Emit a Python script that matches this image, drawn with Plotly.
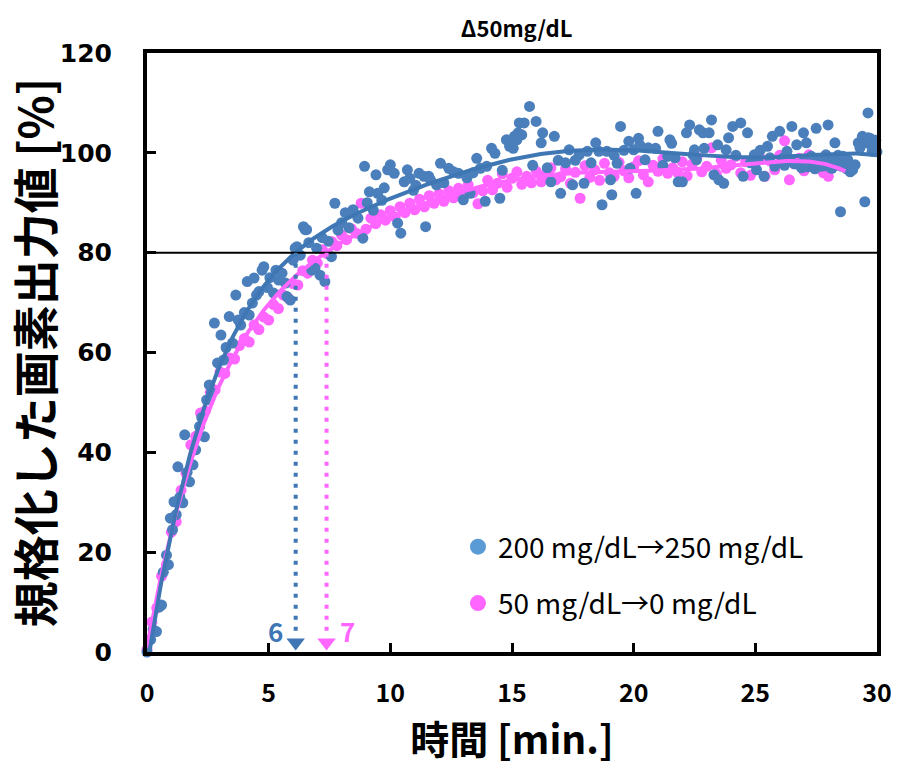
import numpy as np
import plotly.graph_objects as go

# 200 mg/dL -> 250 mg/dL : normalised pixel output over time
blue_t = [0.0, 0.15, 0.25, 0.39, 0.5, 0.6, 0.67, 0.8, 0.88, 0.96, 1.05, 1.11, 1.2, 1.27, 1.35, 1.47,
          1.55, 1.65, 1.75, 1.89, 2.0, 2.16, 2.25, 2.36, 2.45, 2.56, 2.65, 2.77, 2.9, 3.04, 3.15,
          3.25, 3.38, 3.51, 3.65, 3.75, 3.85, 4.0, 4.12, 4.2, 4.33, 4.4, 4.5, 4.6, 4.73, 4.8, 4.95,
          5.05, 5.2, 5.3, 5.41, 5.55, 5.69, 5.75, 5.89, 6.0, 6.09, 6.16, 6.3, 6.43, 6.5, 6.56, 6.65,
          6.77, 6.9, 6.97, 7.11, 7.2, 7.31, 7.45, 7.58, 7.72, 7.85, 8.0, 8.15, 8.3, 8.47, 8.67, 8.87,
          8.94, 9.05, 9.14, 9.3, 9.41, 9.48, 9.65, 9.75, 9.89, 10.0, 10.16, 10.3, 10.43, 10.57, 10.7,
          10.8, 10.95, 11.05, 11.18, 11.38, 11.45, 11.58, 11.65, 11.9, 12.06, 12.2, 12.4, 12.6, 12.8,
          13.0, 13.15, 13.28, 13.4, 13.55, 13.7, 13.9, 13.96, 14.16, 14.3, 14.5, 14.6, 14.77, 14.9,
          15.05, 15.1, 15.2, 15.25, 15.3, 15.4, 15.5, 15.72, 15.85, 15.99, 16.2, 16.26, 16.45, 16.6,
          16.74, 16.9, 17.0, 17.2, 17.35, 17.49, 17.6, 17.76, 17.96, 18.1, 18.25, 18.44, 18.57, 18.7,
          18.9, 19.05, 19.1, 19.2, 19.32, 19.46, 19.6, 19.8, 19.85, 20.0, 20.1, 20.2, 20.25, 20.47,
          20.6, 20.9, 21.0, 21.2, 21.4, 21.49, 21.56, 21.7, 21.83, 22.0, 22.17, 22.3, 22.44, 22.5,
          22.58, 22.7, 22.85, 22.9, 23.1, 23.2, 23.3, 23.45, 23.5, 23.7, 23.8, 23.9, 24.07, 24.2,
          24.4, 24.5, 24.68, 24.8, 24.96, 25.05, 25.1, 25.2, 25.36, 25.5, 25.6, 25.7, 25.8, 26.0,
          26.1, 26.15, 26.2, 26.3, 26.4, 26.5, 26.6, 26.7, 26.8, 26.9, 26.98, 27.0, 27.1, 27.15,
          27.2, 27.3, 27.4, 27.45, 27.5, 27.6, 27.7, 27.8, 27.85, 27.9, 27.99, 28.0, 28.1, 28.15,
          28.2, 28.27, 28.35, 28.4, 28.5, 28.55, 28.6, 28.7, 28.75, 28.8, 28.9, 29.0, 29.1, 29.23,
          29.3, 29.4, 29.5, 29.55, 29.63, 29.65, 29.7, 29.75, 29.8, 29.9, 29.95, 30.0]
blue_y = [0.0, 2.5, 4.5, 4.1, 9.0, 9.4, 16.0, 19.4, 17.5, 26.8, 24.5, 30.1, 27.5, 37.1, 31.0, 29.9,
          43.5, 36.0, 34.1, 37.5, 40.5, 45.2, 47.0, 43.1, 50.5, 53.5, 52.0, 65.9, 57.9, 63.5, 58.5,
          61.0, 67.2, 61.9, 71.5, 66.5, 65.5, 68.0, 74.2, 67.5, 69.9, 74.9, 71.5, 72.2, 76.5, 77.2, 73.0,
          75.0, 71.9, 76.5, 74.5, 75.9, 73.9, 71.2, 70.5, 78.5, 80.9, 81.2, 79.5, 85.2, 84.6, 84.6, 82.0,
          76.5, 76.9, 80.9, 75.5, 83.0, 74.2, 82.3, 79.2, 89.9, 84.5, 86.0, 88.0, 85.0, 88.6, 86.9, 82.9,
          97.3, 90.0, 92.2, 88.5, 95.6, 91.9, 90.5, 93.0, 96.6, 97.6, 95.9, 85.9, 83.9, 94.2, 96.6,
          94.9, 92.5, 93.5, 95.9, 95.3, 85.2, 95.3, 94.6, 93.6, 97.9, 94.0, 96.9, 96.2, 95.9,
          90.6, 95.0, 91.9, 96.0, 98.9, 96.9, 90.3, 97.3, 100.9, 99.9, 90.9, 96.5, 102.6, 101.3,
          100.9, 103.3, 102.6, 104.0, 106.0, 103.6, 106.0, 109.3, 97.5, 106.3, 102.0, 104.0, 97.0, 94.2,
          103.3, 98.5, 91.9, 98.0, 100.6, 93.6, 98.5, 99.6, 93.9, 100.3, 98.0, 102.0, 100.3, 89.6,
          100.3, 94.6, 91.6, 99.5, 97.9, 105.3, 100.5, 102.3, 96.9, 100.6, 91.9, 102.9, 101.6, 98.6,
          101.0, 100.9, 104.3, 97.5, 99.3, 102.6, 101.9, 99.0, 94.2, 94.2, 104.0, 105.6, 99.6, 100.6,
          98.6, 104.6, 104.0, 100.9, 104.0, 106.6, 95.6, 101.6, 94.6, 93.9, 100.6, 103.0, 105.3, 99.5,
          106.0, 95.3, 104.0, 98.0, 99.6, 96.6, 98.5, 100.5, 95.3, 101.3, 99.0, 103.3, 97.3, 104.3,
          98.2, 99.0, 97.5, 100.3, 98.8, 105.3, 97.8, 101.6, 97.6, 97.0, 104.0, 98.4, 102.0, 97.2,
          97.9, 99.3, 98.6, 96.8, 104.9, 98.0, 97.3, 98.8, 97.4, 99.6, 105.6, 97.7, 97.0, 96.9,
          98.3, 102.0, 97.6, 99.5, 88.2, 97.3, 99.3, 97.9, 96.8, 98.6, 96.2, 96.6, 97.6, 102.0,
          101.0, 103.3, 90.2, 102.0, 108.0, 103.0, 101.8, 102.8, 100.3, 101.5, 102.5, 100.2]

# 50 mg/dL -> 0 mg/dL
pink_t = [0.0, 0.2, 0.4, 0.6, 0.8, 1.0, 1.2, 1.4, 1.6, 1.8,
          2.0, 2.2, 2.4, 2.6, 2.8, 3.0, 3.2, 3.4, 3.6, 3.8,
          4.0, 4.2, 4.4, 4.6, 4.8, 5.0, 5.2, 5.4, 5.6, 5.8,
          6.0, 6.2, 6.4, 6.6, 6.8, 7.0, 7.2, 7.4, 7.6, 7.8,
          8.0, 8.2, 8.4, 8.6, 8.8, 9.0, 9.2, 9.4, 9.6, 9.8,
          10.0, 10.2, 10.4, 10.6, 10.8, 11.0, 11.2, 11.4, 11.6, 11.8,
          12.0, 12.2, 12.4, 12.6, 12.8, 13.0, 13.2, 13.4, 13.6, 13.8,
          14.0, 14.2, 14.4, 14.6, 14.8, 15.0, 15.2, 15.4, 15.6, 15.8,
          16.0, 16.2, 16.4, 16.6, 16.8, 17.0, 17.2, 17.4, 17.6, 17.8,
          18.0, 18.2, 18.4, 18.6, 18.8, 19.0, 19.2, 19.4, 19.6, 19.8,
          20.0, 20.2, 20.4, 20.6, 20.8, 21.0, 21.2, 21.4, 21.6, 21.8,
          22.0, 22.2, 22.4, 22.6, 22.8, 23.0, 23.2, 23.4, 23.6, 23.8,
          24.0, 24.2, 24.4, 24.6, 24.8, 25.0, 25.2, 25.4, 25.6, 25.8,
          26.0, 26.2, 26.4, 26.6, 26.8, 27.0, 27.2, 27.4, 27.6, 27.8,
          28.0, 28.2, 28.4, 28.6]
pink_y = [0.5, 6.0, 8.8, 15.2, 17.5, 24.0, 26.1, 32.4, 35.8, 41.5,
          43.2, 47.9, 48.3, 52.0, 52.5, 56.1, 55.8, 58.9, 58.7, 61.4,
          62.8, 62.1, 65.5, 64.6, 67.1, 66.5, 69.6, 68.8, 71.5, 70.9,
          73.8, 73.5, 76.4, 75.9, 78.5, 77.9, 80.6, 79.8, 82.2, 81.4,
          83.5, 82.6, 84.8, 83.9, 89.9, 84.7, 86.9, 85.8, 87.6, 86.5,
          88.4, 87.1, 89.2, 88.0, 89.9, 88.6, 90.7, 89.2, 91.4, 89.9,
          91.8, 90.3, 92.4, 91.0, 92.9, 91.5, 93.6, 92.0, 89.8, 92.4,
          94.5, 92.6, 93.9, 95.8, 93.1, 94.9, 96.2, 93.7, 95.3, 94.0,
          96.3, 94.2, 95.7, 97.0, 94.6, 95.2, 96.8, 93.9, 96.1, 90.9,
          97.4, 95.1, 96.6, 94.5, 97.9, 96.0, 95.3, 98.1, 96.4, 95.0,
          97.2, 98.4, 95.6, 94.2, 97.5, 96.3, 98.8, 95.9, 97.0, 96.1,
          98.2, 95.4, 97.7, 99.1, 96.2, 97.3, 101.0, 95.8, 98.5, 96.9,
          97.6, 99.3, 96.0, 98.2, 95.5, 97.9, 99.0, 95.3, 98.4, 96.6,
          99.5, 102.4, 94.6, 97.8, 98.9, 96.4, 99.6, 97.1, 98.3, 96.0,
          95.3, 98.7, 97.5, 99.2]

series_names = ["200 mg/dL→250 mg/dL", "50 mg/dL→0 mg/dL"]
threshold = 80
x_ticks = [0, 5, 10, 15, 20, 25, 30]
y_ticks = [0, 20, 40, 60, 80, 100, 120]

BLUE = "#4a7fbb"
BLUE_LINE = "#3f77b5"
BLUE_LEG = "#5b9bd5"
PINK = "#ff66ff"
JP = "Noto Sans CJK JP"

# 6th-order polynomial trend lines
def trend(t, y, t_end):
    p = np.polynomial.Polynomial.fit(t, y, 6)
    tt = np.linspace(0, t_end, 600)
    return tt, p(tt)

bt, bf = trend(blue_t, blue_y, 30.0)
pt, pf = trend(pink_t, pink_y, max(pink_t) + 0.1)

def crossing(tt, ff, level):
    idx = int(np.argmax(ff >= level))
    return float(tt[idx])

t_blue80 = crossing(bt, bf, threshold)
t_pink80 = crossing(pt, pf, threshold)

fig = go.Figure()
fig.add_trace(go.Scatter(x=pink_t, y=pink_y, mode="markers", showlegend=False,
                         marker=dict(size=11, color=PINK), cliponaxis=False))
fig.add_trace(go.Scatter(x=blue_t, y=blue_y, mode="markers", showlegend=False,
                         marker=dict(size=11, color=BLUE), cliponaxis=False))
fig.add_trace(go.Scatter(x=pt, y=pf, mode="lines", showlegend=False,
                         line=dict(color=PINK, width=4)))
fig.add_trace(go.Scatter(x=bt, y=bf, mode="lines", showlegend=False,
                         line=dict(color=BLUE_LINE, width=4)))

# legend entries
fig.add_trace(go.Scatter(x=[None], y=[None], mode="markers", name=series_names[0],
                         legendgroup="a", marker=dict(size=20, color=BLUE_LEG)))
fig.add_trace(go.Scatter(x=[None], y=[None], mode="markers", name=series_names[1],
                         legendgroup="b", marker=dict(size=20, color=PINK)))

# 80 % level
fig.add_shape(type="line", xref="x", yref="y", x0=0, x1=30, y0=threshold, y1=threshold,
              line=dict(color="black", width=2), layer="above")

# dotted drop lines with arrow heads at the crossing times
for t80, col in [(t_blue80, BLUE_LINE), (t_pink80, PINK)]:
    fig.add_shape(type="line", xref="x", yref="y", x0=t80, x1=t80, y0=threshold, y1=3.2,
                  line=dict(color=col, width=4, dash="4px,7px"), layer="above")
    fig.add_trace(go.Scatter(x=[t80], y=[1.9], mode="markers", showlegend=False,
                             marker=dict(symbol="triangle-down", size=16, color=col),
                             cliponaxis=False))

fig.add_annotation(x=t_blue80 - 0.45, y=4.4, xref="x", yref="y", text=str(round(t_blue80)),
                   showarrow=False, xanchor="right", yanchor="middle",
                   font=dict(family=JP, size=26, color=BLUE_LINE, weight="bold"))
fig.add_annotation(x=t_pink80 + 0.45, y=4.4, xref="x", yref="y", text=str(round(t_pink80)),
                   showarrow=False, xanchor="left", yanchor="middle",
                   font=dict(family=JP, size=26, color=PINK, weight="bold"))

fig.update_layout(
    width=904, height=769,
    margin=dict(l=147, r=20, t=53, b=117),
    paper_bgcolor="white", plot_bgcolor="white",
    title=dict(text="<b>Δ50mg/dL</b>", x=0.5715, xanchor="center", y=0.962, yanchor="middle",
               font=dict(family=JP, size=22, color="black")),
    legend=dict(x=0.426, y=0.217, xanchor="left", yanchor="top", traceorder="grouped",
                tracegroupgap=17, bgcolor="rgba(0,0,0,0)",
                font=dict(family=JP, size=28, color="black")),
    xaxis=dict(range=[0, 30], tickvals=x_ticks, showgrid=False, zeroline=False,
               showline=True, mirror=True, linecolor="black", linewidth=4,
               ticks="inside", ticklen=9, tickwidth=3, tickcolor="black",
               ticklabelstandoff=16,
               tickfont=dict(family=JP, size=25, color="black", weight="bold"),
               title=dict(text="<b>時間 [min.]</b>", standoff=12,
                          font=dict(family=JP, size=39, color="black"))),
    yaxis=dict(range=[0, 120], tickvals=y_ticks, showgrid=False, zeroline=False,
               showline=True, mirror=True, linecolor="black", linewidth=4,
               ticks="inside", ticklen=9, tickwidth=3, tickcolor="black",
               ticklabelstandoff=26,
               tickfont=dict(family="DejaVu Sans", size=25, color="black", weight="bold"),
               title=dict(text="<b>規格化した画素出力値 [%]</b>", standoff=10,
                          font=dict(family=JP, size=46, color="black"))),
)

fig.write_html("out.html")
